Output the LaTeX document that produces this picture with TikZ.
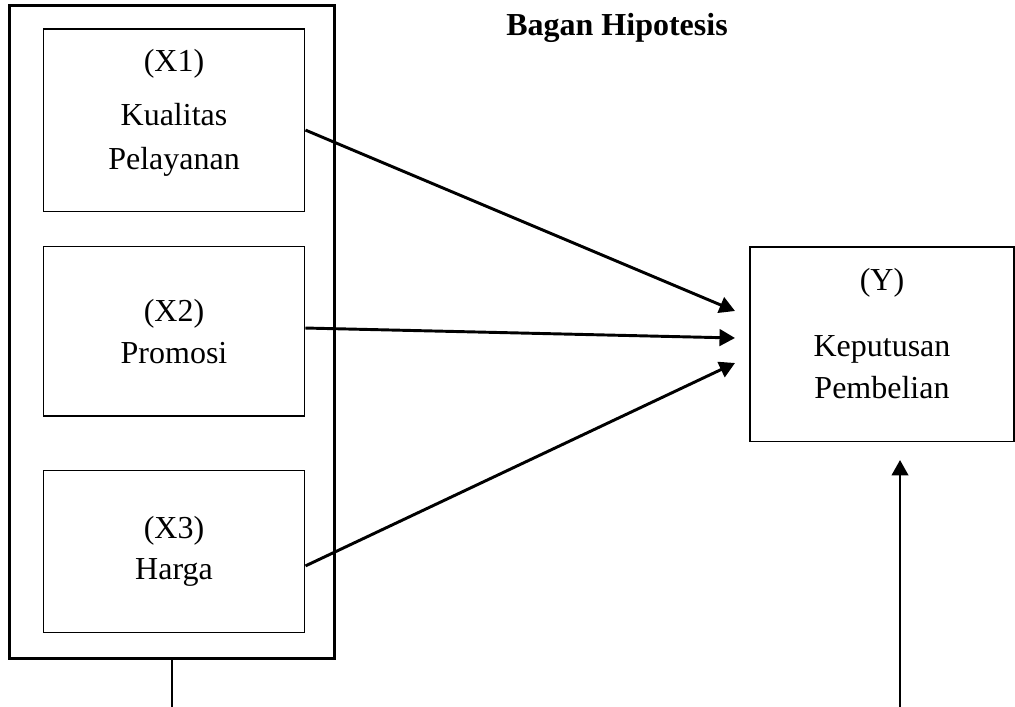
\documentclass[tikz,border=0pt]{standalone}
\usepackage{fontspec}
\setmainfont{Liberation Serif}
\usetikzlibrary{arrows.meta, positioning, calc}
\tikzset{
         myouter/.style={draw, line width=1.1pt, minimum width=122.2pt, minimum height=245.2pt, inner sep=0pt},
         mybox/.style={draw, line width=.4pt, minimum width=98.2pt, inner sep=0pt},
         mytext/.style={align=center, inner sep=0pt, font=\fontsize{12}{15.5}\selectfont},
         mytitle/.style={inner sep=0pt, font=\fontsize{12}{14}\selectfont\bfseries},
         myarrow/.style={-{Triangle[length=5.8pt, width=6.2pt]}, line width=1.1pt}
      }
\begin{document}
\begin{tikzpicture}[x=0.375pt, y=-0.375pt]
  \useasboundingbox (0,0) rectangle (1015,707);
  % title
  \node[mytitle] (title) at (617,28) {Bagan Hipotesis};
  % independent variables
  \node[myouter] (outer) at (172,332) {};
  \node[mybox, minimum height=68.6pt] (x1) at (174,120.5) {};
  \node[mybox, minimum height=63.4pt] (x2) at (174,331.5) {};
  \node[mybox, minimum height=60.4pt] (x3) at (174,551.5) {};
  \node[mytext] (x1text) at ([yshift=3pt]x1.center) {(X1)\\[5pt] Kualitas\\[0.8pt] Pelayanan};
  \node[mytext] (x2text) at (x2.center) {(X2)\\ Promosi};
  \node[mytext] (x3text) at (x3.center) {(X3)\\ Harga};
  % dependent variable
  \node[mybox, minimum width=99pt, minimum height=73.1pt] (y) at (882,344.5) {};
  \node[mytext] (ytext) at ([yshift=4.1pt]y.center) {(Y)\\[9.3pt] Keputusan\\ Pembelian};
  % arrow ends
  \coordinate (yin1) at (735,311);
  \coordinate (yin2) at (735,338);
  \coordinate (yin3) at (735,363);
  \coordinate (outerend) at (outer.south |- 0,707);
  \coordinate (ybottom) at (900,707);
  \coordinate (yup) at (900,460);
  \draw[myarrow] ([yshift=-3.6pt]x1.east) -- (yin1);
  \draw[myarrow] ([yshift=1.3pt]x2.east) -- (yin2);
  \draw[myarrow] ([yshift=-5.4pt]x3.east) -- (yin3);
  \draw[line width=.4pt] (outer.south) -- (outerend);
  \draw[myarrow, line width=1pt] (ybottom) -- (yup);
\end{tikzpicture}
\end{document}
